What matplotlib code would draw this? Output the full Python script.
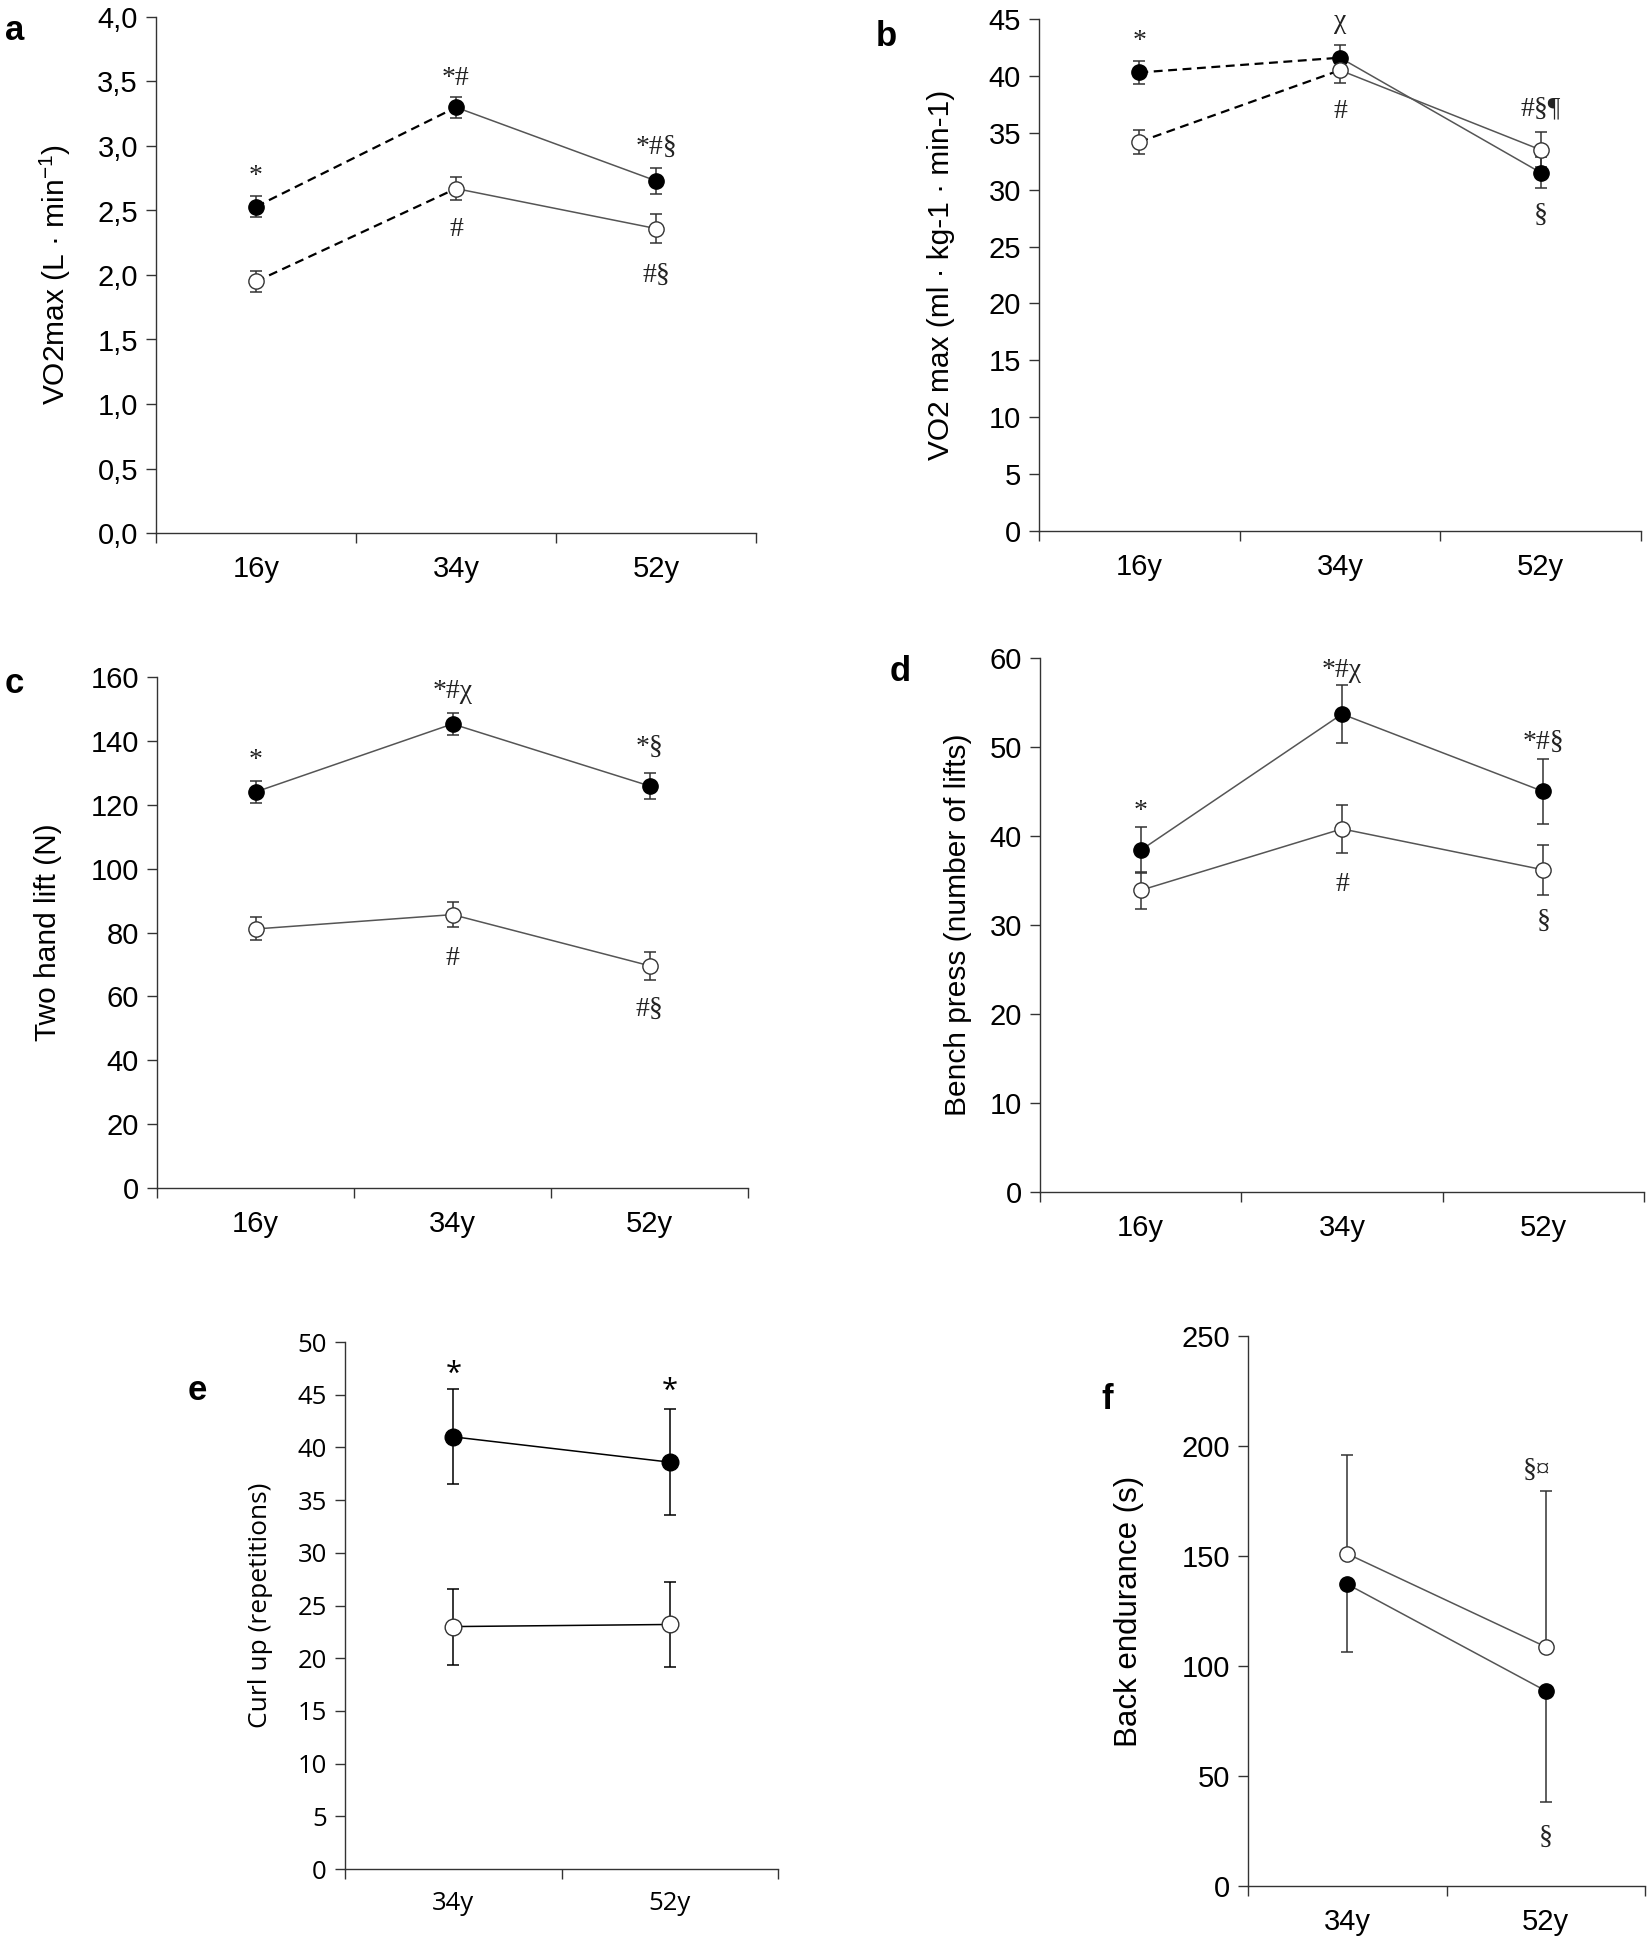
import numpy as np
import matplotlib
matplotlib.use("Agg")
import matplotlib.pyplot as plt

plt.rcParams["font.family"] = ["Liberation Sans", "DejaVu Sans"]
plt.rcParams["mathtext.default"] = "regular"

# =========================================================
# DATA
# =========================================================

ages3 = ["16y", "34y", "52y"]
ages2 = ["34y", "52y"]

# a: VO2max absolute
a_fill = [2.53, 3.30, 2.73]
a_fill_err = [0.08, 0.08, 0.10]
a_open = [1.95, 2.67, 2.36]
a_open_err = [0.08, 0.09, 0.11]
a_ticks = [0.0, 0.5, 1.0, 1.5, 2.0, 2.5, 3.0, 3.5, 4.0]
a_notes = [(0, 2.76, "*"), (1, 3.52, "*#"), (2, 2.99, "*#§"),
           (1, 2.35, "#"), (2, 2.00, "#§")]

# b: VO2max relative
b_fill = [40.3, 41.6, 31.5]
b_fill_err = [1.05, 1.1, 1.35]
b_open = [34.2, 40.5, 33.5]
b_open_err = [1.05, 1.1, 1.55]
b_ticks = [0, 5, 10, 15, 20, 25, 30, 35, 40, 45]
b_notes = [(0, 43.0, "*"), (1, 44.8, "χ"), (1, 36.9, "#"),
           (2, 37.1, "#§¶"), (2, 27.7, "§")]

# c: two hand lift
c_fill = [124.0, 145.3, 125.9]
c_fill_err = [3.4, 3.5, 4.1]
c_open = [81.1, 85.6, 69.6]
c_open_err = [3.6, 4.0, 4.4]
c_ticks = [0, 20, 40, 60, 80, 100, 120, 140, 160]
c_notes = [(0, 133.8, "*"), (1, 155.6, "*#χ"), (2, 138.1, "*§"),
           (1, 71.9, "#"), (2, 55.9, "#§")]

# d: bench press
d_fill = [38.4, 53.7, 45.0]
d_fill_err = [2.6, 3.3, 3.6]
d_open = [33.9, 40.8, 36.2]
d_open_err = [2.1, 2.7, 2.8]
d_ticks = [0, 10, 20, 30, 40, 50, 60]
d_notes = [(0, 42.75, "*"), (1, 58.6, "*#χ"), (2, 50.55, "*#§"),
           (1, 34.5, "#"), (2, 30.4, "§")]

# e: curl up
e_fill = [41.0, 38.6]
e_fill_err = [4.5, 5.0]
e_open = [23.0, 23.2]
e_open_err = [3.6, 4.0]
e_ticks = [0, 5, 10, 15, 20, 25, 30, 35, 40, 45, 50]
e_notes = [(0, 46.9, "*"), (1, 45.3, "*")]

# f: back endurance (filled: lower bar only, open: upper bar only)
f_fill = [137.2, 88.7]
f_fill_err = [31.0, 50.3]
f_open = [151.0, 108.7]
f_open_err = [44.7, 71.0]
f_ticks = [0, 50, 100, 150, 200, 250]
f_notes = [(0.954, 188.9, "§¤"), (1, 22.0, "§")]

# =========================================================
# HELPERS
# =========================================================

FIG_W, FIG_H = 1650, 1944
fig = plt.figure(figsize=(FIG_W / 100, FIG_H / 100), dpi=100)

AX_COLOR = "#333333"
LINE_GRAY = "#555555"
SERIF = ["Liberation Serif", "DejaVu Serif"]


def px_axes(left, right, top, bottom):
    return fig.add_axes([left / FIG_W, 1 - bottom / FIG_H,
                         (right - left) / FIG_W, (bottom - top) / FIG_H])


def setup(ax, cats, ticks, ylabel, label_x, font="Liberation Sans",
          tick_size=21, label_size=21.5, fmt=None):
    n = len(cats)
    ax.set_xlim(0, n)
    ax.set_ylim(ticks[0], ticks[-1])
    ax.spines[["top", "right"]].set_visible(False)
    for s in ("left", "bottom"):
        ax.spines[s].set_linewidth(1.0)
        ax.spines[s].set_color(AX_COLOR)
    ax.set_xticks(np.arange(n) + 0.5)
    ax.set_xticklabels(cats, fontsize=tick_size, family=font)
    ax.set_xticks(np.arange(n + 1), minor=True)
    ax.tick_params(axis="x", which="major", length=0, pad=16)
    ax.tick_params(axis="x", which="minor", length=7, width=1, color=AX_COLOR)
    ax.set_yticks(ticks)
    labels = [fmt(t) for t in ticks] if fmt else [str(t) for t in ticks]
    ax.set_yticklabels(labels, fontsize=tick_size, family=font)
    ax.tick_params(axis="y", length=7, width=1, color=AX_COLOR, pad=6)
    ax.set_ylabel(ylabel, fontsize=label_size, family=font)
    ax.yaxis.label.set_va("center")
    ax.yaxis.set_label_coords(label_x, 0.5)


def series(ax, y, err, filled, dash_first=False, line_color=LINE_GRAY,
           err_color=AX_COLOR, ms=11):
    x = np.arange(len(y)) + 0.5
    if dash_first:
        ax.plot(x[:2], y[:2], color="black", lw=1.6, ls=(0, (4, 2.5)), zorder=2)
        ax.plot(x[1:], y[1:], color=line_color, lw=1.1, zorder=2)
    else:
        ax.plot(x, y, color=line_color, lw=1.1, zorder=2)
    ax.errorbar(x, y, yerr=err, fmt="none", ecolor=err_color, elinewidth=1.1,
                capsize=4.5, capthick=1.1, zorder=3)
    face = "black" if filled else "white"
    ax.plot(x, y, "o", ms=ms, mfc=face, mec="black" if filled else AX_COLOR,
            mew=1.0, zorder=4, clip_on=False)


def notes(ax, items, size=20):
    for xi, yv, s in items:
        ax.text(xi + 0.5, yv, s, ha="center", va="center", fontsize=size,
                family=SERIF, color="#222222")


def comma(v):
    return f"{v:.1f}".replace(".", ",")


# =========================================================
# PANELS
# =========================================================

ax_a = px_axes(156, 756, 17, 533)
series(ax_a, a_fill, a_fill_err, True, dash_first=True)
series(ax_a, a_open, a_open_err, False, dash_first=True)
setup(ax_a, ages3, a_ticks, "VO2max (L · min$^{\\mathregular{-1}}$)", -0.168, fmt=comma)
notes(ax_a, a_notes)

ax_b = px_axes(1039, 1641, 19, 531)
series(ax_b, b_fill, b_fill_err, True, dash_first=True)
series(ax_b, b_open, b_open_err, False, dash_first=True)
setup(ax_b, ages3, b_ticks, "VO2 max (ml · kg-1 · min-1)", -0.163)
notes(ax_b, b_notes)

ax_c = px_axes(157, 748, 677, 1188)
series(ax_c, c_fill, c_fill_err, True)
series(ax_c, c_open, c_open_err, False)
setup(ax_c, ages3, c_ticks, "Two hand lift (N)", -0.184)
notes(ax_c, c_notes)

ax_d = px_axes(1040, 1644, 658, 1192)
series(ax_d, d_fill, d_fill_err, True)
series(ax_d, d_open, d_open_err, False)
setup(ax_d, ages3, d_ticks, "Bench press (number of lifts)", -0.136)
notes(ax_d, d_notes)

ax_e = px_axes(345, 778, 1342, 1869)
series(ax_e, e_fill, e_fill_err, True, line_color="black", err_color="black", ms=12)
series(ax_e, e_open, e_open_err, False, line_color="black", err_color="black", ms=12)
setup(ax_e, ages2, e_ticks, "Curl up (repetitions)", -0.196,
      font="Open Sans", tick_size=18.5, label_size=19)
for xi, yv, s in e_notes:
    ax_e.text(xi + 0.5, yv, s, ha="center", va="center", fontsize=21,
              family="Open Sans", color="black")

ax_f = px_axes(1248, 1645, 1336, 1886)
xf = np.arange(len(f_fill)) + 0.5
ax_f.plot(xf, f_open, color=LINE_GRAY, lw=1.1, zorder=2)
ax_f.plot(xf, f_fill, color=LINE_GRAY, lw=1.1, zorder=2)
ax_f.errorbar(xf, f_open, yerr=[np.zeros(len(f_open)), f_open_err], fmt="none",
              ecolor=AX_COLOR, elinewidth=1.1, capsize=4.5, capthick=1.1, zorder=3)
ax_f.errorbar(xf, f_fill, yerr=[f_fill_err, np.zeros(len(f_fill))], fmt="none",
              ecolor=AX_COLOR, elinewidth=1.1, capsize=4.5, capthick=1.1, zorder=3)
ax_f.plot(xf, f_fill, "o", ms=11, mfc="black", mec="black", zorder=4)
ax_f.plot(xf, f_open, "o", ms=11, mfc="white", mec=AX_COLOR, mew=1.0, zorder=4)
setup(ax_f, ages2, f_ticks, "Back endurance (s)", -0.301, label_size=22.5)
for xi, yv, s in f_notes:
    ax_f.text(xi + 0.5, yv, s, ha="center", va="center", fontsize=20,
              family=SERIF, color="#222222")

# panel letters
for letter, x_px, base_px in [("a", 5, 40), ("b", 876, 46), ("c", 5, 693),
                              ("d", 890, 681), ("e", 188, 1400), ("f", 1101, 1409)]:
    fig.text(x_px / FIG_W, 1 - base_px / FIG_H, letter, fontsize=25,
             fontweight="bold", ha="left", va="baseline")

fig.savefig("out.png", dpi=100)
